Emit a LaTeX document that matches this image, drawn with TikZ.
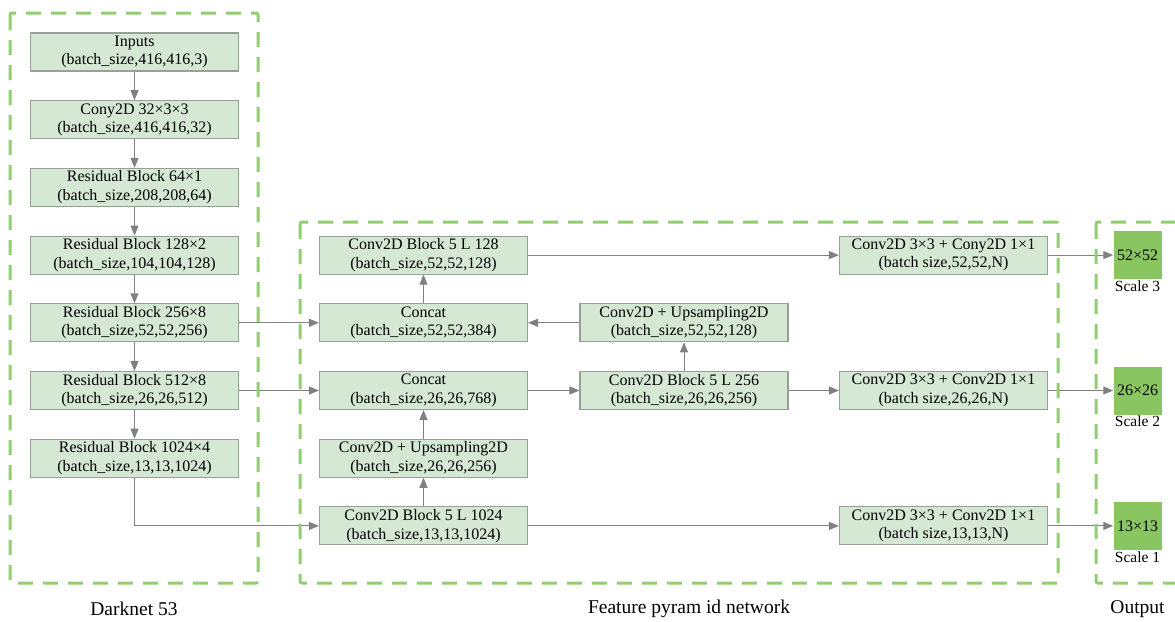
\documentclass[tikz,border=0pt]{standalone}
\usepackage{fontspec}
\setmainfont{Liberation Serif}
\usepackage{tikz}
\usetikzlibrary{arrows.meta,positioning}

\definecolor{boxfill}{RGB}{213,232,212}
\definecolor{boxline}{RGB}{150,160,150}
\definecolor{outfill}{RGB}{137,198,98}
\definecolor{framegreen}{RGB}{146,206,112}
\definecolor{linegray}{RGB}{128,128,132}

\begin{document}
\begin{tikzpicture}[x=1pt, y=-1pt,
    box/.style={draw=boxline, line width=1.1pt, fill=boxfill, minimum width=208pt, minimum height=38pt,
                inner sep=1pt, font=\fontsize{16}{18.5}\selectfont, align=center},
    outbox/.style={fill=outfill, minimum width=48pt, minimum height=48pt, inner sep=0pt,
                   font=\fontsize{16}{18.5}\selectfont},
    lbl/.style={font=\fontsize{15.5}{18.5}\selectfont, inner sep=1pt},
    grouplbl/.style={font=\fontsize{19.5}{22}\selectfont, inner sep=1pt},
    flow/.style={-{Triangle[length=10pt, width=8pt]}, line width=1pt, linegray},
    frame/.style={draw=framegreen, line width=3pt, dash pattern=on 15pt off 10pt, rounded corners=2pt},
]
\useasboundingbox (0,0) rectangle (1175,621);

% Darknet 53
\node[box] (inp) at (134.5, 52.0) {Inputs\\(batch\_size,416,416,3)};
\node[box] (conv32) at (134.5, 119.7) {Cony2D 32×3×3\\(batch\_size,416,416,32)};
\node[box] (res64) at (134.5, 187.4) {Residual Block 64×1\\(batch\_size,208,208,64)};
\node[box] (res128) at (134.5, 255.1) {Residual Block 128×2\\(batch\_size,104,104,128)};
\node[box] (res256) at (134.5, 322.8) {Residual Block 256×8\\(batch\_size,52,52,256)};
\node[box] (res512) at (134.5, 390.5) {Residual Block 512×8\\(batch\_size,26,26,512)};
\node[box] (res1024) at (134.5, 458.2) {Residual Block 1024×4\\(batch\_size,13,13,1024)};

% Feature pyramid network
\node[box] (blk128) at (423.5, 255.1) {Conv2D Block 5 L 128\\(batch\_size,52,52,128)};
\node[box] (cat384) at (423.5, 322.8) {Concat\\(batch\_size,52,52,384)};
\node[box] (up128) at (684, 322.8) {Conv2D + Upsampling2D\\(batch\_size,52,52,128)};
\node[box] (cat768) at (423.5, 390.5) {Concat\\(batch\_size,26,26,768)};
\node[box] (blk256) at (684, 390.5) {Conv2D Block 5 L 256\\(batch\_size,26,26,256)};
\node[box] (up256) at (423.5, 458.2) {Conv2D + Upsampling2D\\(batch\_size,26,26,256)};
\node[box] (blk1024) at (423.5, 525.9) {Conv2D Block 5 L 1024\\(batch\_size,13,13,1024)};

\node[box] (head52) at (943.5, 255.1) {Conv2D 3×3 + Cony2D 1×1\\(batch size,52,52,N)};
\node[box] (head26) at (943.5, 390.5) {Conv2D 3×3 + Conv2D 1×1\\(batch size,26,26,N)};
\node[box] (head13) at (943.5, 525.9) {Conv2D 3×3 + Conv2D 1×1\\(batch size,13,13,N)};

% Output
\node[outbox] (out52) at (1137.5, 255.1) {52×52};
\node[outbox] (out26) at (1137.5, 390.5) {26×26};
\node[outbox] (out13) at (1137.5, 525.9) {13×13};
\node[lbl, anchor=north] (sc3) at (out52.south) {Scale 3};
\node[lbl, anchor=north] (sc2) at (out26.south) {Scale 2};
\node[lbl, anchor=north] (sc1) at (out13.south) {Scale 1};

% connectors
\draw[flow] (inp) -- (conv32);
\draw[flow] (conv32) -- (res64);
\draw[flow] (res64) -- (res128);
\draw[flow] (res128) -- (res256);
\draw[flow] (res256) -- (res512);
\draw[flow] (res512) -- (res1024);

\draw[flow] (res256) -- (cat384);
\draw[flow] (res512) -- (cat768);
\draw[flow] (res1024.south) |- (blk1024.west);

\draw[flow] (blk1024) -- (up256);
\draw[flow] (up256) -- (cat768);
\draw[flow] (cat768) -- (blk256);
\draw[flow] (blk256) -- (up128);
\draw[flow] (up128) -- (cat384);
\draw[flow] (cat384) -- (blk128);

\draw[flow] (blk128) -- (head52);
\draw[flow] (blk256) -- (head26);
\draw[flow] (blk1024) -- (head13);
\draw[flow] (head52) -- (out52);
\draw[flow] (head26) -- (out26);
\draw[flow] (head13) -- (out13);

% frames
\draw[frame] (10,13) rectangle (258,583);
\draw[frame] (300,222) rectangle (1058,583);
\draw[frame] (1096,222) rectangle (1190,583);

\node[grouplbl] (lbdark) at (134, 609) {Darknet 53};
\node[grouplbl] (lbfpn) at (689, 609) {Feature pyram id network};
\node[grouplbl] (lbout) at (1137.5, 609) {Output};
\end{tikzpicture}
\end{document}
